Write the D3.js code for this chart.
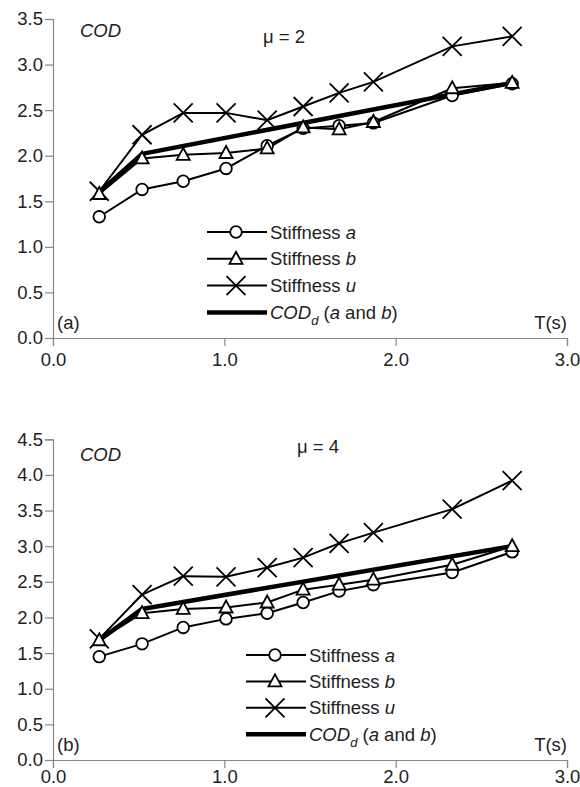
<!DOCTYPE html>
<html lang="en">
<head>
<meta charset="utf-8">
<title>COD vs T</title>
<script src="https://cdn.jsdelivr.net/npm/d3@7"></script>
<style>
  body { margin: 0; background: #fff; }
  svg { font-family: "Liberation Sans", Arial, sans-serif; }
  .axis path, .axis line { stroke: #888; stroke-width: 1.2; }
  .axis text { font-size: 18.5px; fill: #222; }
  .lbl { font-size: 18.5px; fill: #222; }
</style>
</head>
<body>
<svg width="580" height="787"></svg>
<script>
// periods T(s), shared by both panels
var periods = [0.27, 0.52, 0.76, 1.01, 1.25, 1.46, 1.67, 1.87, 2.33, 2.68];
var codPeriods = [0.27, 0.52, 2.68];

// panel (a) mu = 2
var mu2A = [1.33, 1.63, 1.72, 1.86, 2.11, 2.30, 2.33, 2.36, 2.66, 2.79];
var mu2B = [1.58, 1.97, 2.01, 2.03, 2.08, 2.31, 2.29, 2.37, 2.74, 2.80];
var mu2U = [1.61, 2.23, 2.47, 2.47, 2.39, 2.54, 2.69, 2.81, 3.20, 3.31];
var mu2Cod = [1.60, 2.02, 2.80];

// panel (b) mu = 4
var mu4A = [1.45, 1.63, 1.86, 1.98, 2.06, 2.21, 2.37, 2.46, 2.63, 2.92];
var mu4B = [1.68, 2.06, 2.12, 2.14, 2.21, 2.39, 2.46, 2.53, 2.74, 3.00];
var mu4U = [1.70, 2.32, 2.58, 2.57, 2.70, 2.84, 3.04, 3.19, 3.52, 3.92];
var mu4Cod = [1.68, 2.12, 3.00];

var xTicks = [0, 1, 2, 3];
var yTicksA = [0, 0.5, 1, 1.5, 2, 2.5, 3, 3.5];
var yTicksB = [0, 0.5, 1, 1.5, 2, 2.5, 3, 3.5, 4, 4.5];

var svg = d3.select("svg");

function drawMarker(g, type, cx, cy) {
  if (type == "circle") {
    g.append("circle").attr("cx", cx).attr("cy", cy).attr("r", 5.8)
      .attr("fill", "#fff").attr("stroke", "#000").attr("stroke-width", 1.8);
  } else if (type == "triangle") {
    g.append("path")
      .attr("d", "M" + cx + "," + (cy - 7) + "L" + (cx + 6.5) + "," + (cy + 5) + "L" + (cx - 6.5) + "," + (cy + 5) + "Z")
      .attr("fill", "#fff").attr("stroke", "#000").attr("stroke-width", 1.8);
  } else if (type == "cross") {
    g.append("path")
      .attr("d", "M" + (cx - 9.5) + "," + (cy - 9.5) + "L" + (cx + 9.5) + "," + (cy + 9.5) +
                 "M" + (cx - 9.5) + "," + (cy + 9.5) + "L" + (cx + 9.5) + "," + (cy - 9.5))
      .attr("fill", "none").attr("stroke", "#000").attr("stroke-width", 1.8);
  }
}

function drawPanel(p) {
  var x = d3.scaleLinear().domain([0, 3]).range([53, 567]);
  var y = d3.scaleLinear().domain([0, p.yMax]).range([p.bottom, p.top]);

  svg.append("g").attr("class", "axis")
    .attr("transform", "translate(0," + p.bottom + ")")
    .call(d3.axisBottom(x).tickValues(xTicks).tickFormat(d3.format(".1f"))
      .tickSizeOuter(0).tickSize(8).tickPadding(p.xPad));

  svg.append("g").attr("class", "axis")
    .attr("transform", "translate(53,0)")
    .call(d3.axisLeft(y).tickValues(p.yTicks).tickFormat(d3.format(".1f"))
      .tickSizeOuter(0).tickSize(8).tickPadding(2));

  var line = d3.line()
    .x(function(d) { return x(d[0]); })
    .y(function(d) { return y(d[1]); });

  var g = svg.append("g");

  // thick design line
  g.append("path")
    .datum(codPeriods.map(function(t, i) { return [t, p.cod[i]]; }))
    .attr("d", line).attr("fill", "none").attr("stroke", "#000")
    .attr("stroke-width", 4.5).attr("stroke-linejoin", "round");

  var series = [
    { vals: p.u, marker: "cross" },
    { vals: p.a, marker: "circle" },
    { vals: p.b, marker: "triangle" }
  ];

  series.forEach(function(s) {
    var pts = periods.map(function(t, i) { return [t, s.vals[i]]; });
    g.append("path").datum(pts).attr("d", line)
      .attr("fill", "none").attr("stroke", "#000").attr("stroke-width", 2);
  });
  series.forEach(function(s) {
    periods.forEach(function(t, i) {
      drawMarker(g, s.marker, x(t), y(s.vals[i]));
    });
  });

  // text labels
  svg.append("text").attr("class", "lbl").attr("x", 80).attr("y", p.codY)
    .style("font-style", "italic").text("COD");
  svg.append("text").attr("class", "lbl").attr("x", p.muX).attr("y", p.muY)
    .text("μ = " + p.mu);
  svg.append("text").attr("class", "lbl").attr("x", 57).attr("y", p.bottom - 9)
    .text(p.tag);
  svg.append("text").attr("class", "lbl").attr("x", 567).attr("y", p.bottom - 9)
    .attr("text-anchor", "end").text("T(s)");

  // legend
  var leg = svg.append("g");
  var items = [
    { marker: "circle", name: "Stiffness ", it: "a" },
    { marker: "triangle", name: "Stiffness ", it: "b" },
    { marker: "cross", name: "Stiffness ", it: "u" },
    { marker: "cod" }
  ];
  items.forEach(function(it, i) {
    var ly = p.legY + i * p.legGap;
    leg.append("line").attr("x1", p.legX).attr("x2", p.legX + 60)
      .attr("y1", ly).attr("y2", ly).attr("stroke", "#000")
      .attr("stroke-width", it.marker == "cod" ? 4.5 : 2);
    if (it.marker != "cod") {
      drawMarker(leg, it.marker, p.legX + 29, ly);
      var t = leg.append("text").attr("class", "lbl").attr("x", p.legX + 63).attr("y", ly + 6.5);
      t.append("tspan").text(it.name);
      t.append("tspan").style("font-style", "italic").text(it.it);
    } else {
      var t2 = leg.append("text").attr("class", "lbl").attr("x", p.legX + 63).attr("y", ly + 6.5);
      t2.append("tspan").style("font-style", "italic").text("COD");
      t2.append("tspan").style("font-style", "italic").style("font-size", "13px")
        .attr("dy", 6).text("d");
      t2.append("tspan").attr("dy", -6).text(" (");
      t2.append("tspan").style("font-style", "italic").text("a");
      t2.append("tspan").text(" and ");
      t2.append("tspan").style("font-style", "italic").text("b");
      t2.append("tspan").text(")");
    }
  });
}

drawPanel({
  top: 19, bottom: 338, yMax: 3.5, yTicks: yTicksA,
  a: mu2A, b: mu2B, u: mu2U, cod: mu2Cod, xPad: 7,
  mu: 2, muX: 263, muY: 43, codY: 37, tag: "(a)",
  legX: 207, legY: 232, legGap: 26.8
});

drawPanel({
  top: 439.3, bottom: 760, yMax: 4.5, yTicks: yTicksB,
  a: mu4A, b: mu4B, u: mu4U, cod: mu4Cod, xPad: 1.5,
  mu: 4, muX: 297, muY: 453, codY: 461, tag: "(b)",
  legX: 246, legY: 655, legGap: 26.4
});
</script>
</body>
</html>
